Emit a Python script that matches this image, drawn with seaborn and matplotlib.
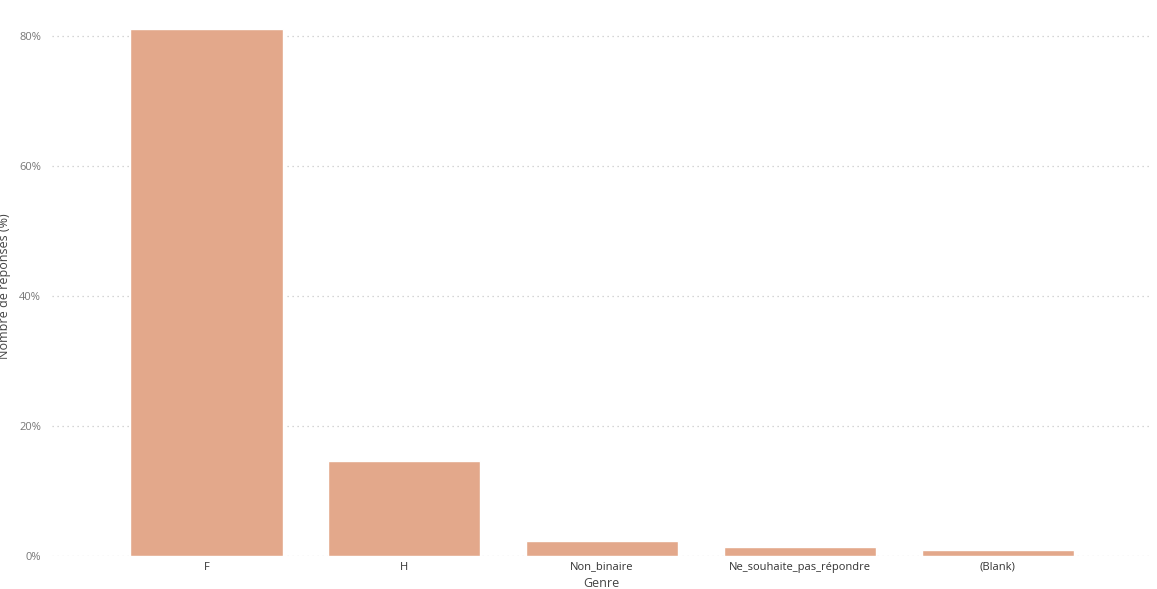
import matplotlib
matplotlib.use("Agg")
import matplotlib.pyplot as plt
import seaborn as sns
import pandas as pd
from matplotlib.ticker import PercentFormatter

# --- données ---
genres = ["F", "H", "Non_binaire", "Ne_souhaite_pas_répondre", "(Blank)"]
pourcentages = [81.0, 14.6, 2.3, 1.4, 0.85]

df = pd.DataFrame({"Genre": genres, "pct": pourcentages})

sns.set_style("white")
plt.rcParams["font.family"] = ["Open Sans", "DejaVu Sans"]

fig = plt.figure(figsize=(11.57, 5.89), dpi=100)
ax = fig.add_axes([0.045, 0.056, 0.949, 0.916])

sns.barplot(data=df, x="Genre", y="pct", order=genres, color="#E3A88B",
            saturation=1, width=0.77, ax=ax, zorder=2)

ax.set_xlim(-0.78, 4.77)
ax.set_ylim(0, 83)
ax.set_yticks([0, 20, 40, 60, 80])
ax.yaxis.set_major_formatter(PercentFormatter(decimals=0))
ax.grid(axis="y", linestyle=(0, (1, 3)), color="#c8c8c8", linewidth=0.9, zorder=0)
ax.grid(axis="x", visible=False)
for s in ax.spines.values():
    s.set_visible(False)

ax.tick_params(axis="y", labelsize=8, labelcolor="#777777", length=0, pad=8)
ax.tick_params(axis="x", labelsize=8, labelcolor="#333333", length=0, pad=4)
ax.set_xlabel("Genre", fontsize=9, color="#444444", labelpad=3)
ax.set_ylabel("Nombre de réponses (%)", fontsize=9, color="#444444")
ax.yaxis.set_label_coords(-0.037, 0.5)

fig.savefig("out.png", dpi=100)
